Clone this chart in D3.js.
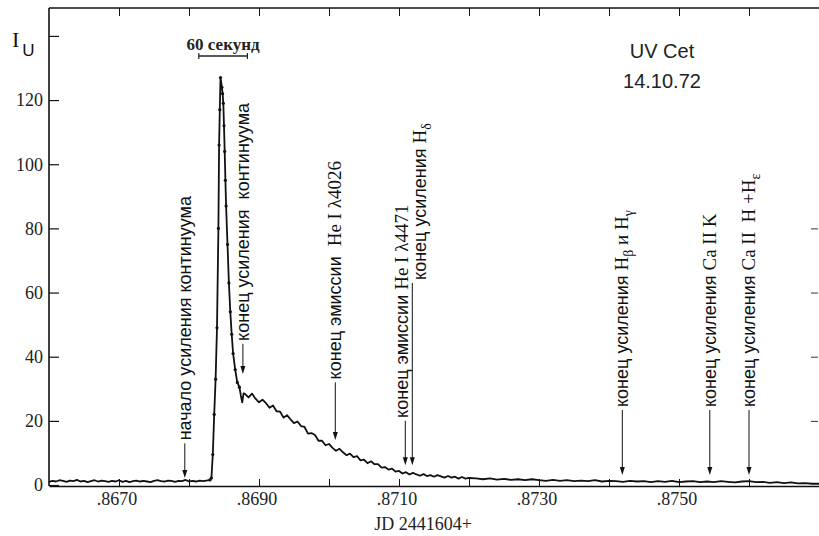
<!DOCTYPE html>
<html>
<head>
<meta charset="utf-8">
<script src="https://cdn.jsdelivr.net/npm/d3@7"></script>
<style>
  body { margin: 0; background: #fff; }
  svg { display: block; }
  .note { white-space: pre; }
</style>
</head>
<body>
<div id="chart"></div>
<script>
// light curve, JD 2441604+ (fraction) and intensity in U
var jd = [
  .86600,.86605,.86610,.86615,.86620,.86625,.86630,.86635,.86640,.86645,
  .86650,.86655,.86660,.86665,.86670,.86675,.86680,.86685,.86690,.86695,
  .86700,.86705,.86710,.86715,.86720,.86725,.86730,.86735,.86740,.86745,
  .86750,.86755,.86760,.86765,.86770,.86775,.86780,.86785,.86790,.86795,
  .86800,.86805,.86810,.86815,.86820,.86825,.86830,
  .86832,.86834,.86836,.86838,.86840,.86842,.86843,.86844,.86845,.86847,
  .86848,.86849,.86850,.86851,.86852,.86853,.86855,.86857,.86859,.86861,
  .86863,.86866,.86869,.86872,.86874,.86876,.86878,
  .86880,.86885,.86890,.86895,.86900,.86905,.86910,.86915,.86920,.86925,
  .86930,.86935,.86940,.86945,.86950,.86955,.86960,.86965,.86970,.86975,
  .86980,.86985,.86990,.86995,.87000,.87005,.87010,.87015,.87020,.87025,
  .87030,.87035,.87040,.87045,.87050,.87055,.87060,.87065,.87070,.87075,
  .87080,.87085,.87090,.87095,.87100,.87105,.87110,.87115,.87120,.87125,
  .87130,.87135,.87140,.87145,.87150,.87155,.87160,.87165,.87170,.87175,
  .87180,.87185,.87190,.87195,.87200,
  .8721,.8722,.8723,.8724,.8725,.8726,.8727,.8728,.8729,.8730,
  .8731,.8732,.8733,.8734,.8735,.8736,.8737,.8738,.8739,.8740,
  .8741,.8742,.8743,.8744,.8745,.8746,.8747,.8748,.8749,.8750,
  .8751,.8752,.8753,.8754,.8755,.8756,.8757,.8758,.8759,.8760,
  .8761,.8762,.8763,.8764,.8765,.8766,.8767,.8768,.8769,.8770
];
var iu = [
  1.0,1.3,1.1,1.5,1.3,1.0,1.4,1.2,1.6,1.1,
  1.3,0.9,1.2,1.5,1.1,1.4,1.2,1.0,1.3,1.1,
  1.5,1.0,1.3,0.9,1.2,1.4,1.1,1.3,1.1,0.9,
  1.3,1.5,1.2,1.1,1.4,1.3,1.0,1.3,1.2,1.6,
  1.1,1.3,1.1,1.4,1.2,1.4,1.6,
  2.2,9.5,22,33,49,80,106,117,127,124,
  122,119,112,104,95,87,75,63,54,47,
  41,36,32,30.5,28,25.8,28.6,
  28.4,27.3,28.5,26.9,25.8,26.6,25.5,24.1,24.8,23.0,
  22.9,21.0,21.8,20.5,19.3,19.8,18.4,18.1,16.0,16.2,
  15.6,13.8,13.8,12.4,12.8,11.6,10.7,11.3,10.2,9.3,
  9.8,8.7,9.0,7.7,7.9,6.8,7.4,6.5,6.5,5.4,
  5.6,4.8,5.1,4.2,4.4,3.6,4.0,3.3,3.8,3.3,
  2.9,3.4,2.8,3.1,2.6,3.1,2.7,2.3,2.8,2.3,
  2.6,2.0,2.5,2.0,2.2,
  2.1,1.8,2.1,1.7,1.9,1.6,1.8,1.5,1.8,1.5,
  1.3,1.6,1.3,1.5,1.2,1.4,1.2,1.5,1.1,1.3,
  1.2,1.0,1.3,1.1,1.2,0.9,1.2,1.0,1.3,0.9,
  1.1,1.2,0.9,1.1,0.9,1.2,1.0,0.8,1.1,1.2,
  0.9,1.0,0.7,0.9,0.6,0.8,0.5,0.6,0.4,0.4
];

var yTicks = [0, 20, 40, 60, 80, 100, 120, 140];
var yTickLabels = ["0", "20", "40", "60", "80", "100", "120", ""];
var xTicks = [.867, .868, .869, .870, .871, .872, .873, .874, .875, .876, .877];
var xLabelTicks = [.867, .869, .871, .873, .875];
var xLabels = [".8670", ".8690", ".8710", ".8730", ".8750"];

// annotation arrows: position, arrow top and tip (in I_U), caption
var noteJD  = [.86794, .86877, .87009, .87109, .87119, .87419, .87544, .87600];
var noteTop = [13, 44, 32, 20, 63, 23.4, 23.4, 23.4];
var noteTip = [2.2, 34.6, 14, 6.2, 6.2, 3.1, 3.1, 3.1];
var noteText = [
  "начало усиления континуума",
  "конец усиления  континуума",
  "конец эмиссии  |He I λ4026",
  "конец эмиссии |He I λ4471",
  "конец усиления |H_δ",
  "конец усиления |H_β и H_γ",
  "конец усиления |Ca II K",
  "конец усиления |Ca II  H +H_ε"
];

var dotRange = [.86830, .86872];   // points drawn as dots
var barStart = .86814, barSeconds = 60;

var W = 819, H = 536;
var SANS = "'Liberation Sans Narrow', 'Liberation Sans', Arial, sans-serif";
var SERIF = "'Liberation Serif', 'Times New Roman', serif";
var noteShift = [6, 6, 6, 3, 14, 6, 6, 6];  // baseline offset of captions from arrows

var svg = d3.select("#chart").append("svg")
  .attr("width", W)
  .attr("height", H);

var x = d3.scaleLinear().domain([.8660, .8770]).range([49, 819]);
var y = d3.scaleLinear().domain([-0.3, 148.7]).range([486, 8]);

var data = jd.map(function(d, i){ return {t: d, v: iu[i]}; });

// frame
svg.append("line").attr("x1", x(.866)).attr("x2", x(.866)).attr("y1", y(148.7)).attr("y2", y(-0.3))
  .attr("stroke", "#111").attr("stroke-width", 1.6);
svg.append("line").attr("x1", x(.866)).attr("x2", W).attr("y1", y(148.7)).attr("y2", y(148.7))
  .attr("stroke", "#111").attr("stroke-width", 1.4);

// bottom axis
var xAxis = d3.axisBottom(x).tickValues(xTicks).tickSizeInner(-7).tickSizeOuter(0).tickFormat("");
var gx = svg.append("g").attr("transform", "translate(0," + y(-0.3) + ")").call(xAxis);
gx.select(".domain").attr("stroke", "#111").attr("stroke-width", 1.6);
gx.selectAll(".tick line").attr("stroke", "#111");

svg.selectAll(".xlab").data(xLabelTicks).enter().append("text")
  .attr("class", "xlab")
  .attr("x", function(d){ return x(d) - 2; })
  .attr("y", 505)
  .attr("text-anchor", "middle")
  .style("font-family", SERIF).style("font-size", "18px").attr("fill", "#222")
  .text(function(d, i){ return xLabels[i]; });

svg.append("text")
  .attr("x", 423).attr("y", 530)
  .attr("text-anchor", "middle")
  .style("font-family", SERIF).style("font-size", "18px").attr("fill", "#222")
  .text("JD 2441604+");

// top ticks
var xTop = d3.axisTop(x).tickValues(xTicks).tickSizeInner(-8).tickSizeOuter(0).tickFormat("");
var gt = svg.append("g").attr("transform", "translate(0," + y(148.7) + ")").call(xTop);
gt.select(".domain").remove();
gt.selectAll(".tick line").attr("stroke", "#111");

// left axis
var yAxis = d3.axisLeft(y).tickValues(yTicks).tickSizeInner(-10).tickSizeOuter(0).tickFormat("");
var gy = svg.append("g").attr("transform", "translate(" + x(.866) + ",0)").call(yAxis);
gy.select(".domain").remove();
gy.selectAll(".tick line").attr("stroke", "#111").attr("stroke-width", 1.2);

svg.selectAll(".ylab").data(yTicks).enter().append("text")
  .attr("class", "ylab")
  .attr("x", 43)
  .attr("y", function(d){ return y(d); })
  .attr("dy", "0.35em")
  .attr("text-anchor", "end")
  .style("font-family", SERIF).style("font-size", "18px").attr("fill", "#222")
  .text(function(d, i){ return yTickLabels[i]; });

// right ticks
var yRight = d3.axisRight(y).tickValues(yTicks.slice(1, 5)).tickSizeInner(-7).tickSizeOuter(0).tickFormat("");
var gr = svg.append("g").attr("transform", "translate(" + (W - 1) + ",0)").call(yRight);
gr.select(".domain").remove();
gr.selectAll(".tick line").attr("stroke", "#333");

// axis title I_U
var iu_lab = svg.append("text").attr("x", 12).attr("y", 47)
  .style("font-family", SERIF).style("font-size", "22px").attr("fill", "#111");
iu_lab.append("tspan").text("I");
iu_lab.append("tspan").attr("dx", 3).attr("dy", 9)
  .style("font-family", "'Liberation Sans', Arial, sans-serif").style("font-size", "17px").text("U");

// light curve
var line = d3.line()
  .x(function(d){ return x(d.t); })
  .y(function(d){ return y(d.v); });

svg.append("path")
  .datum(data)
  .attr("d", line)
  .attr("fill", "none")
  .attr("stroke", "#111")
  .attr("stroke-width", 1.8)
  .attr("stroke-linejoin", "round");

svg.selectAll(".pt")
  .data(data.filter(function(d){ return d.t >= dotRange[0] && d.t <= dotRange[1]; }))
  .enter().append("circle")
  .attr("class", "pt")
  .attr("cx", function(d){ return x(d.t); })
  .attr("cy", function(d){ return y(d.v); })
  .attr("r", 1.6)
  .attr("fill", "#111");

// 60 second scale bar
var bx0 = x(barStart), bx1 = x(barStart + barSeconds / 86400);
svg.append("line").attr("x1", bx0).attr("x2", bx1).attr("y1", 56).attr("y2", 56)
  .attr("stroke", "#222").attr("stroke-width", 1.3);
svg.selectAll(".bartick").data([bx0, bx1]).enter().append("line")
  .attr("x1", function(d){ return d; }).attr("x2", function(d){ return d; })
  .attr("y1", 53).attr("y2", 59)
  .attr("stroke", "#222").attr("stroke-width", 1.2);
svg.append("text")
  .attr("x", (bx0 + bx1) / 2).attr("y", 50)
  .attr("text-anchor", "middle")
  .style("font-family", SERIF).style("font-size", "17px").style("font-weight", "bold")
  .attr("fill", "#222")
  .text(barSeconds + " секунд");

// star and date
svg.append("text").attr("x", 662).attr("y", 58).attr("text-anchor", "middle")
  .style("font-family", "'Liberation Sans', Arial, sans-serif").style("font-size", "20px")
  .attr("fill", "#222").text("UV Cet");
svg.append("text").attr("x", 662).attr("y", 88).attr("text-anchor", "middle")
  .style("font-family", "'Liberation Sans', Arial, sans-serif").style("font-size", "20px")
  .attr("fill", "#222").text("14.10.72");

// annotations
function richText(sel, str) {
  str.split("|").forEach(function(seg, i){
    var fam = i % 2 ? SERIF : SANS;
    var size = i % 2 ? "19px" : "18px";
    seg.split(/_(.)/).forEach(function(part, k){
      if (!part) return;
      var ts = sel.append("tspan").style("font-family", fam).style("font-size", size).text(part);
      if (k % 2 === 1) ts.style("font-size", "14px").attr("baseline-shift", "-5");
    });
  });
}

noteJD.forEach(function(t, i){
  var ax = x(t), yTop = y(noteTop[i]), yTip = y(noteTip[i]);
  svg.append("line")
    .attr("x1", ax).attr("x2", ax)
    .attr("y1", yTop).attr("y2", yTip - 6)
    .attr("stroke", "#111").attr("stroke-width", 1);
  svg.append("path")
    .attr("d", "M" + (ax - 2.5) + "," + (yTip - 8) + "L" + (ax + 2.5) + "," + (yTip - 8) + "L" + ax + "," + yTip + "Z")
    .attr("fill", "#111");
  var tx = svg.append("text")
    .attr("class", "note")
    .attr("transform", "translate(" + (ax + noteShift[i]) + "," + (yTop - 3) + ") rotate(-90)")
    .attr("fill", "#111");
  richText(tx, noteText[i]);
});
</script>
</body>
</html>
